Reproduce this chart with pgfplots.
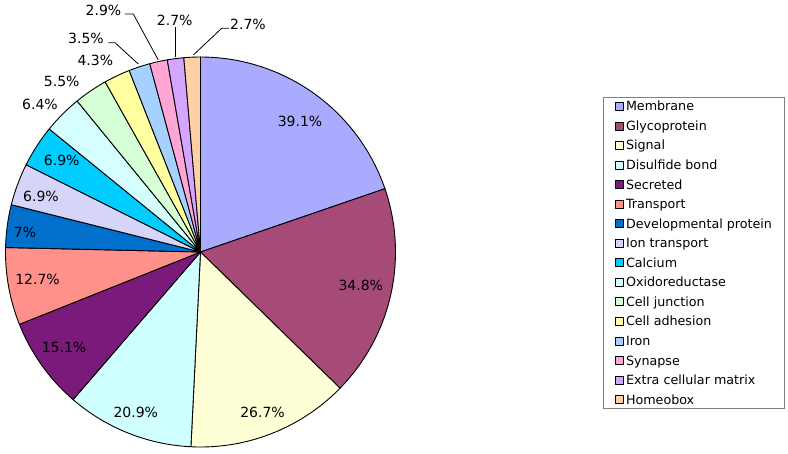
\documentclass[border=0pt]{standalone}
\usepackage{fontspec}
\setmainfont{DejaVu Sans}
\usepackage{pgfplots}
\pgfplotsset{compat=1.18}
\definecolor{cMem}{RGB}{170,170,255}
\definecolor{cGly}{RGB}{166,74,120}
\definecolor{cSig}{RGB}{255,255,213}
\definecolor{cDis}{RGB}{208,255,255}
\definecolor{cSec}{RGB}{122,26,122}
\definecolor{cTra}{RGB}{255,145,138}
\definecolor{cDev}{RGB}{0,112,204}
\definecolor{cIon}{RGB}{213,213,250}
\definecolor{cCal}{RGB}{0,204,255}
\definecolor{cOxi}{RGB}{213,255,255}
\definecolor{cJun}{RGB}{213,255,213}
\definecolor{cAdh}{RGB}{255,255,160}
\definecolor{cIro}{RGB}{166,208,255}
\definecolor{cSyn}{RGB}{255,166,213}
\definecolor{cExt}{RGB}{213,166,255}
\definecolor{cHom}{RGB}{255,208,166}
\tikzset{pieslice/.style={draw=black, line width=0.9pt, line join=round}}
% value / colour / name
\def\piedata{39.1/cMem/Membrane,%
34.8/cGly/Glycoprotein,%
26.7/cSig/Signal,%
20.9/cDis/Disulfide bond,%
15.1/cSec/Secreted,%
12.7/cTra/Transport,%
7/cDev/Developmental protein,%
6.9/cIon/Ion transport,%
6.9/cCal/Calcium,%
6.4/cOxi/Oxidoreductase,%
5.5/cJun/Cell junction,%
4.3/cAdh/Cell adhesion,%
3.5/cIro/Iron,%
2.9/cSyn/Synapse,%
2.7/cExt/Extra cellular matrix,%
2.7/cHom/Homeobox}
\def\total{198.1}
\begin{document}
\begin{tikzpicture}
\useasboundingbox (0,0) rectangle (788pt,453pt);
\begin{axis}[
  at={(0,0)}, anchor=south west,
  x=1pt, y=1pt, xmin=0, xmax=788, ymin=0, ymax=453, y dir=reverse,
  hide axis, clip=false,
  legend image code/.code={\draw[#1, line width=0.6pt] (0pt,-4pt) rectangle (8pt,4pt);},
  legend cell align=left,
  legend style={at={(axis cs:603,96.5)}, anchor=north west,
    draw=gray, line width=0.8pt, fill=white,
    font=\fontsize{12.7}{15}\selectfont,
    inner xsep=12pt, inner ysep=0pt, row sep=0.85pt,
    nodes={inner sep=0pt, text height=13.98pt, text depth=4.72pt},
    /tikz/every odd column/.append style={column sep=2pt}},
]
\xdef\cum{0}
\foreach \v/\c/\n in \piedata {%
  \pgfmathsetmacro\lo{90-(\cum+\v)/\total*360}%
  \pgfmathsetmacro\hi{90-\cum/\total*360}%
  \edef\temp{\noexpand\addplot[pieslice, fill=\c, domain=\lo:\hi, samples=60]
    ({200.5+195*cos(x)},{252-195*sin(x)}) -- (200.5,252) -- cycle;
    \noexpand\addlegendentry{\n}}%
  \temp
  \pgfmathsetmacro\newcum{\cum+\v}%
  \xdef\cum{\newcum}%
}
% data labels
\begin{scope}[every node/.style={font=\fontsize{14}{16}\selectfont, inner sep=0pt}]
\node at (axis cs:300,121.7) {39.1\%};
\node at (axis cs:360.8,285.8) {34.8\%};
\node at (axis cs:262.5,412) {26.7\%};
\node at (axis cs:135.8,412) {20.9\%};
\node at (axis cs:64,347) {15.1\%};
\node at (axis cs:37.5,279.5) {12.7\%};
\node at (axis cs:25,232) {7\%};
\node at (axis cs:41,196.5) {6.9\%};
\node at (axis cs:61.7,160.3) {6.9\%};
\node at (axis cs:40,104) {6.4\%};
\node at (axis cs:61.7,81.7) {5.5\%};
\node at (axis cs:95.3,60) {4.3\%};
\node at (axis cs:86,38.5) {3.5\%};
\node at (axis cs:103.5,10.5) {2.9\%};
\node at (axis cs:174.7,20) {2.7\%};
\node at (axis cs:248,24) {2.7\%};
\end{scope}
\draw[line width=0.8pt] (axis cs:108.3,42.7) -- (axis cs:115,42.7) -- (axis cs:138.3,64);
\draw[line width=0.8pt] (axis cs:125,14) -- (axis cs:133.3,14) -- (axis cs:158.3,60);
\draw[line width=0.8pt] (axis cs:175.7,27) -- (axis cs:175.7,56.7);
\draw[line width=0.8pt] (axis cs:193.3,55) -- (axis cs:221.7,28.3) -- (axis cs:229,28.3);
\end{axis}
\end{tikzpicture}
\end{document}
